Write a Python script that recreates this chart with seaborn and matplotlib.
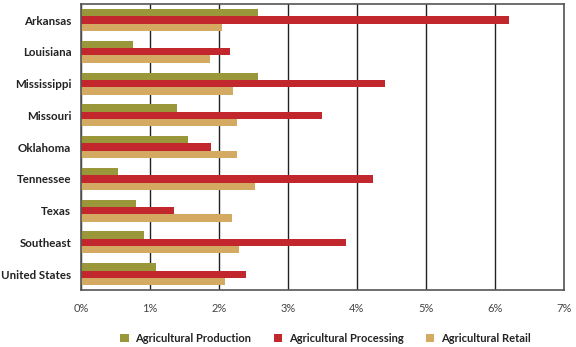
import pandas as pd
import matplotlib.pyplot as plt
import seaborn as sns
from matplotlib.ticker import FuncFormatter, FixedLocator
from matplotlib.patches import Patch

# Data (percent)
regions = ["Arkansas", "Louisiana", "Mississippi", "Missouri", "Oklahoma",
           "Tennessee", "Texas", "Southeast", "United States"]
production = [2.56, 0.75, 2.56, 1.39, 1.55, 0.54, 0.80, 0.91, 1.09]
processing = [6.20, 2.16, 4.41, 3.49, 1.88, 4.23, 1.35, 3.84, 2.39]
retail = [2.05, 1.87, 2.20, 2.26, 2.26, 2.52, 2.19, 2.29, 2.09]
series = ["Agricultural Production", "Agricultural Processing", "Agricultural Retail"]
colors = ["#9a963a", "#c1272d", "#d4aa62"]

df = pd.DataFrame({
    "Region": regions * 3,
    "Share": production + processing + retail,
    "Series": [series[0]] * 9 + [series[1]] * 9 + [series[2]] * 9,
})

sns.set_style("white")
plt.rcParams["font.family"] = ["Lato", "DejaVu Sans"]

fig = plt.figure(figsize=(5.76, 3.47), dpi=100)
ax = fig.add_axes([0.1406, 0.164, 0.8385, 0.824])

sns.barplot(data=df, y="Region", x="Share", hue="Series", order=regions,
            hue_order=series, palette=colors, orient="h", width=0.69,
            saturation=1, errorbar=None, legend=False, linewidth=0, ax=ax)

ax.set_xlim(0, 7)
ax.set_ylim(len(regions) - 0.5, -0.5)
ax.xaxis.set_major_locator(FixedLocator(range(0, 8)))
ax.xaxis.set_major_formatter(FuncFormatter(lambda v, p: f"{v:.0f}%"))
ax.grid(axis="x", color="#222222", linewidth=1.0)
ax.set_axisbelow(True)

# category labels centered, tick marks between groups
ax.set_yticks(range(len(regions)))
ax.set_yticklabels(regions, fontweight="bold", fontsize=8.3, color="#222222")
ax.tick_params(axis="y", length=0, pad=7)
ax.set_yticks([i - 0.5 for i in range(len(regions) + 1)], minor=True)
ax.tick_params(axis="y", which="minor", length=4, color="#555555", width=1)
ax.tick_params(axis="x", length=4, color="#333333", width=1, labelsize=8,
               pad=5, labelcolor="#444444", direction="out")

for s in ax.spines.values():
    s.set_color("#555555")
    s.set_linewidth(1.2)

ax.set_xlabel("")
ax.set_ylabel("")

handles = [Patch(facecolor=c, edgecolor="none") for c in colors]
leg = fig.legend(handles, series, loc="lower center", ncol=3, frameon=False,
                 bbox_to_anchor=(0.565, -0.02), fontsize=8, handlelength=0.75,
                 handleheight=0.75, columnspacing=2.0, handletextpad=0.6)
for t in leg.get_texts():
    t.set_fontweight("bold")
    t.set_color("#222222")

plt.savefig("out.png", dpi=100)
plt.close()
